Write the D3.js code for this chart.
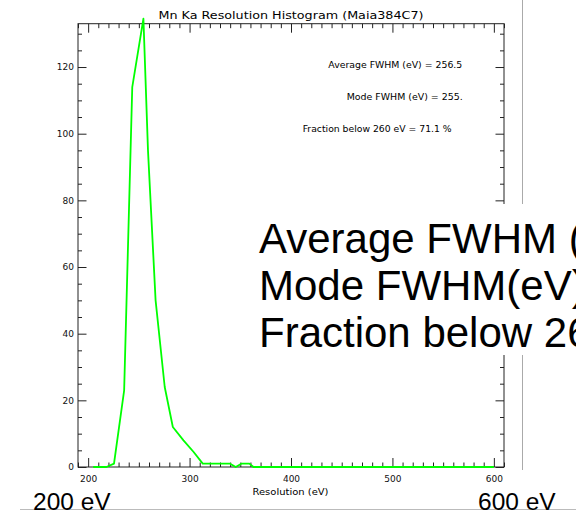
<!DOCTYPE html>
<html>
<head>
<meta charset="utf-8">
<script src="https://cdn.jsdelivr.net/npm/d3@7"></script>
<style>
  html, body { margin: 0; padding: 0; background: #fff; }
  svg { display: block; }
</style>
</head>
<body>
<svg width="576" height="514"></svg>
<script>
// histogram readings (eV, counts)
const resolution = [205, 218, 225.5, 235.5, 243.5, 254.5, 259, 266.5, 275.5, 283.5, 294, 304, 313, 340, 345.5, 351, 359, 363, 600];
const counts = [0, 0, 1, 23, 114, 134.5, 95, 50, 24, 12, 8, 4.5, 1, 1, 0, 1, 1, 0, 0];

const xMajor = [200, 300, 400, 500, 600];
const yMajor = [0, 20, 40, 60, 80, 100, 120];

const statLines = ["Average FWHM (eV) = 256.5", "Mode FWHM (eV) = 255.", "Fraction below 260 eV = 71.1 %"];
const bigLines = ["Average FWHM (eV) = 256.5", "Mode FWHM(eV) = 255", "Fraction below 260 eV = 71.1 %"];
const cornerLabels = ["200 eV", "600 eV"];

let w = 576;
let h = 514;
let pLeft = 78, pRight = 504, pTop = 23.7, pBottom = 467;

let svg = d3.select("svg");

let xScale = d3.scaleLinear().domain([190, 610]).range([pLeft, pRight]);
let yScale = d3.scaleLinear().domain([0, 133]).range([pBottom, pTop]);

let xMinor = d3.range(190, 611, 10).filter(d => xMajor.indexOf(d) < 0);
let yMinor = d3.range(0, 134, 5).filter(d => yMajor.indexOf(d) < 0);

let idlFont = "DejaVu Sans";

// faint frame of the pasted picture
svg.append("line")
    .attr("x1", 522.5).attr("x2", 522.5).attr("y1", 0).attr("y2", 470)
    .attr("stroke", "#aaa").attr("stroke-width", 1);
svg.append("line")
    .attr("x1", 20).attr("x2", 576).attr("y1", 509.5).attr("y2", 509.5)
    .attr("stroke", "#bbb").attr("stroke-width", 1);

let addAxis = (axis, tx, ty) => {
    let g = svg.append("g")
        .attr("transform", "translate(" + tx + "," + ty + ")")
        .call(axis);
    g.select(".domain").remove();
    g.selectAll("line").attr("stroke", "#222");
    g.selectAll("text")
        .attr("font-family", idlFont)
        .attr("font-size", 9)
        .attr("fill", "#111");
    return g;
};

// bottom
addAxis(d3.axisBottom(xScale).tickValues(xMajor).tickSize(-9).tickPadding(9).tickFormat(d3.format("d")), 0, pBottom);
addAxis(d3.axisBottom(xScale).tickValues(xMinor).tickSize(-4.5).tickFormat(""), 0, pBottom);
// top
addAxis(d3.axisTop(xScale).tickValues(xMajor).tickSize(-9).tickFormat(""), 0, pTop);
addAxis(d3.axisTop(xScale).tickValues(xMinor).tickSize(-4.5).tickFormat(""), 0, pTop);
// left
addAxis(d3.axisLeft(yScale).tickValues(yMajor).tickSize(-8.5).tickPadding(4).tickFormat(d3.format("d")), pLeft, 0);
addAxis(d3.axisLeft(yScale).tickValues(yMinor).tickSize(-4).tickFormat(""), pLeft, 0);
// right
addAxis(d3.axisRight(yScale).tickValues(yMajor).tickSize(-8.5).tickFormat(""), pRight, 0);
addAxis(d3.axisRight(yScale).tickValues(yMinor).tickSize(-4).tickFormat(""), pRight, 0);

svg.append("rect")
    .attr("x", pLeft).attr("y", pTop)
    .attr("width", pRight - pLeft).attr("height", pBottom - pTop)
    .attr("fill", "none").attr("stroke", "#222").attr("stroke-width", 1);

// curve
let line = d3.line()
    .x((d, i) => xScale(resolution[i]))
    .y((d, i) => yScale(counts[i]));

svg.append("path")
    .datum(counts)
    .attr("d", line)
    .attr("fill", "none")
    .attr("stroke", "#00ff00")
    .attr("stroke-width", 1.8)
    .attr("stroke-linejoin", "round");

// title and axis title
svg.append("text")
    .attr("x", 291).attr("y", 19)
    .attr("text-anchor", "middle")
    .attr("font-family", idlFont).attr("font-size", 10.5)
    .attr("textLength", 265).attr("lengthAdjust", "spacingAndGlyphs")
    .text("Mn Ka Resolution Histogram (Maia384C7)");

svg.append("text")
    .attr("x", 290.5).attr("y", 495)
    .attr("text-anchor", "middle")
    .attr("font-family", idlFont).attr("font-size", 9)
    .attr("textLength", 76).attr("lengthAdjust", "spacingAndGlyphs")
    .text("Resolution (eV)");

// IDL annotations
let statX = [328.3, 346.7, 302.7];
let statW = [134, 116, 149];
let statY = [68.3, 100, 131.7];
svg.selectAll(".stat")
    .data(statLines)
    .enter()
    .append("text")
    .attr("class", "stat")
    .attr("x", (d, i) => statX[i])
    .attr("y", (d, i) => statY[i])
    .attr("font-family", idlFont).attr("font-size", 8.5)
    .attr("textLength", (d, i) => statW[i]).attr("lengthAdjust", "spacingAndGlyphs")
    .text(d => d);

// overlaid text box (runs past the right edge, as in the slide)
svg.append("rect")
    .attr("x", 250).attr("y", 204)
    .attr("width", w - 250).attr("height", 151)
    .attr("fill", "#fff");

svg.selectAll(".big")
    .data(bigLines)
    .enter()
    .append("text")
    .attr("class", "big")
    .attr("x", 259)
    .attr("y", (d, i) => 253 + i * 47)
    .attr("font-family", "Liberation Sans, Arial, sans-serif")
    .attr("font-size", 42)
    .attr("fill", "#000")
    .text(d => d);

svg.selectAll(".corner")
    .data(cornerLabels)
    .enter()
    .append("text")
    .attr("class", "corner")
    .attr("x", (d, i) => i == 0 ? 33 : 478)
    .attr("y", 510)
    .attr("font-family", "Liberation Sans, Arial, sans-serif")
    .attr("font-size", 24.5)
    .attr("fill", "#000")
    .text(d => d);
</script>
</body>
</html>
